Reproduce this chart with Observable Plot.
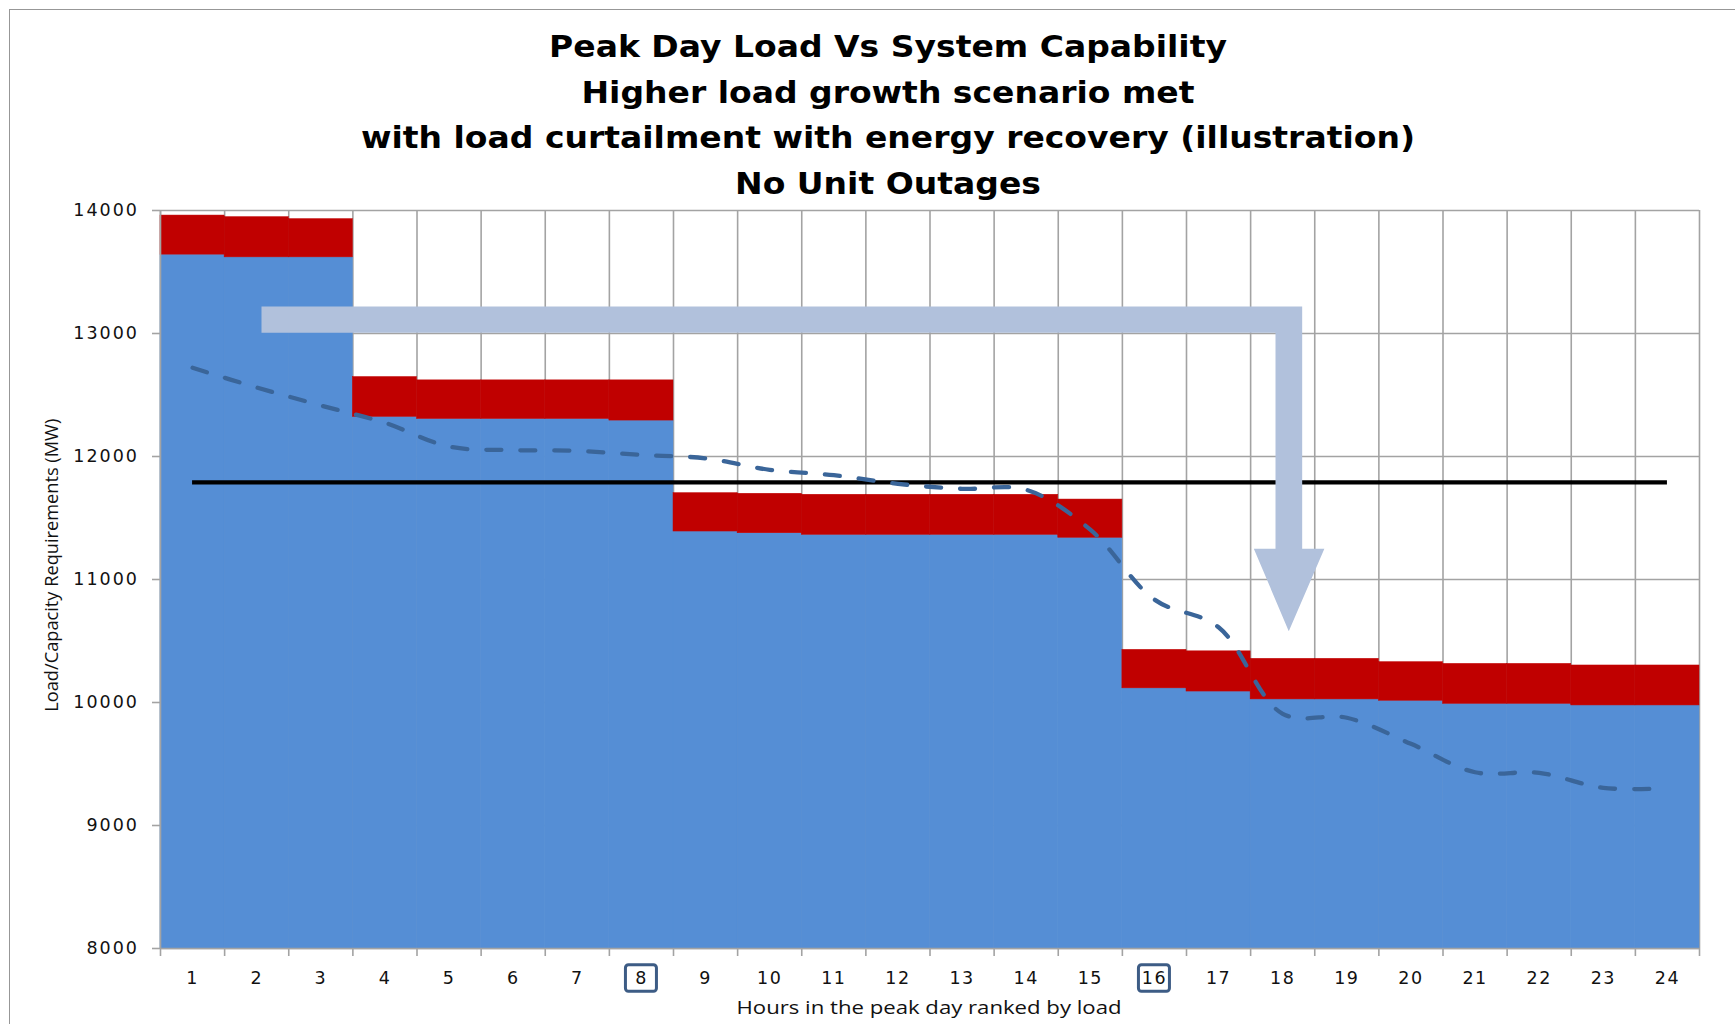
<!DOCTYPE html>
<html>
<head>
<meta charset="utf-8">
<script src="https://cdn.jsdelivr.net/npm/d3@7"></script>
<script src="https://cdn.jsdelivr.net/npm/@observablehq/plot@0.6"></script>
<style>
html, body { margin: 0; padding: 0; background: #fff; overflow: hidden; }
#wrap { position: relative; width: 1735px; height: 1024px; overflow: hidden; background: #fff; }
#border { position: absolute; left: 9px; top: 9px; width: 2000px; height: 2000px; border: 1.5px solid #979797; pointer-events: none; }
#title { position: absolute; left: 0; top: 0; width: 1735px; box-sizing: border-box; padding-left: 41px; padding-top: 24px;
  text-align: center; font-family: "DejaVu Sans", sans-serif; font-weight: bold; font-size: 30px; line-height: 45.5px; color: #000;
  transform: scaleX(1.1); transform-origin: 888px 0; }
#chart { position: absolute; left: 0; top: 200px; }
g[aria-label="y-axis tick label"] text { letter-spacing: 2px; }
g[aria-label="x-axis tick label"] text { letter-spacing: 1.5px; }
</style>
</head>
<body>
<div id="wrap">
  <div id="border"></div>
  <div id="title">Peak Day Load Vs System Capability<br>Higher load growth scenario met<br>with load curtailment with energy recovery (illustration)<br>No Unit Outages</div>
  <div id="chart"></div>
</div>
<script>
// ---- data ----
const hours = [1,2,3,4,5,6,7,8,9,10,11,12,13,14,15,16,17,18,19,20,21,22,23,24];
const servedLoad = [13641,13619,13619,12322,12305,12305,12305,12292,11390,11376,11363,11363,11363,11363,11339,10115,10089,10025,10025,10014,9989,9989,9976,9976];
const curtailedLoad = [318,327,311,324,314,314,314,327,312,321,326,326,326,326,311,313,327,330,330,314,325,325,325,325];
const recoveryLoad = [12721,12561,12415,12274,12081,12052,12046,12013,11985,11892,11848,11778,11737,11729,11405,10837,10612,9908,9876,9664,9433,9428,9306,9303];
const systemCapability = 11790;
const yTicks = [8000,9000,10000,11000,12000,13000,14000];
const highlightedHours = [8,16];
// illustrative arrow outline (hour units, MW)
const arrowX = [2.075,18.304,18.304,18.65,18.095,17.55,17.888,17.888,2.075];
const arrowY = [13220,13220,11250,11250,10580,11250,11250,13006,13006];

const yLabel = "Load/Capacity Requirements (MW)";
const xLabel = "Hours in the peak day ranked by load";

// ---- tables for the library ----
const table = hours.map((h, i) => ({hour: h, served: servedLoad[i], top: servedLoad[i] + curtailedLoad[i], recovery: recoveryLoad[i]}));
const boundaries = [hours[0] - 0.5, ...hours.map(h => h + 0.5)];
const arrow = arrowX.map((x, i) => ({x, y: arrowY[i]}));
const yMin = yTicks[0], yMax = yTicks[yTicks.length - 1];

const gridColor = "#a3a3a3";

function tickHighlights(index, scales, values, dimensions) {
  const bottom = dimensions.height - dimensions.marginBottom;
  const g = d3.create("svg:g").attr("aria-label", "highlight");
  g.selectAll("rect").data(highlightedHours).join("rect")
    .attr("x", h => scales.x(h) - 15.5)
    .attr("y", bottom + 16.8)
    .attr("width", 31)
    .attr("height", 26.4)
    .attr("rx", 3)
    .attr("fill", "none")
    .attr("stroke", "#3d5c85")
    .attr("stroke-width", 3);
  return g.node();
}

const chart = Plot.plot({
  width: 1735,
  height: 824,
  marginTop: 10,
  marginLeft: 160,
  marginRight: 36,
  marginBottom: 76,
  style: {fontFamily: "DejaVu Sans", fontSize: "17px", background: "transparent", color: "#111", overflow: "visible"},
  x: {type: "linear", domain: [boundaries[0], boundaries[boundaries.length - 1]]},
  y: {domain: [yMin, yMax]},
  marks: [
    Plot.gridX(boundaries, {stroke: gridColor, strokeOpacity: 1, strokeWidth: 1.6}),
    Plot.gridY(yTicks, {stroke: gridColor, strokeOpacity: 1, strokeWidth: 1.6}),
    Plot.rect(table, {x1: d => d.hour - 0.5, x2: d => d.hour + 0.5, y1: d => yMin, y2: "served", fill: "#558ed5", stroke: "#558ed5", strokeWidth: 0.5}),
    Plot.rect(table, {x1: d => d.hour - 0.5, x2: d => d.hour + 0.5, y1: "served", y2: "top", fill: "#c00000", stroke: "#c00000", strokeWidth: 0.5}),
    Plot.ruleX([boundaries[0]], {stroke: gridColor, strokeWidth: 1.6}),
    Plot.ruleY([yMin], {stroke: gridColor, strokeWidth: 1.6}),
    Plot.ruleY([systemCapability], {x1: hours[0], x2: hours[hours.length - 1], stroke: "#000", strokeWidth: 4.2}),
    Plot.line(table, {x: "hour", y: "recovery", stroke: "#3a6599", strokeWidth: 4.3, strokeDasharray: "15,19", strokeLinecap: "round", curve: "catmull-rom"}),
    Plot.line(arrow, {x: "x", y: "y", fill: "#b1c1dc", stroke: "none", curve: "linear-closed"}),
    Plot.axisY(yTicks, {tickSize: 8, tickPadding: 13.5, fontSize: 17.5, stroke: gridColor, strokeWidth: 1.6, fill: "#111", tickFormat: d => String(d)}),
    Plot.axisX(boundaries, {tickSize: 8, tickPadding: 0, stroke: gridColor, strokeWidth: 1.6, tickFormat: () => "", ariaLabel: "x-axis boundary"}),
    Plot.axisX(hours, {tickSize: 0, tickPadding: 22.6, fontSize: 17.5, fill: "#111", tickFormat: d => String(d)}),
    tickHighlights,
    Plot.text([yLabel], {frameAnchor: "left", dx: -108.3, dy: -14.3, rotate: -90, text: d => d, textAnchor: "middle", lineAnchor: "middle", fontFamily: "Open Sans", fontSize: 19, fill: "#111"}),
    Plot.text([xLabel], {frameAnchor: "bottom", dx: -1, dy: 60, text: d => d, textAnchor: "middle", lineAnchor: "middle", fontFamily: "Open Sans", fontSize: 17.5, fill: "#111"})
  ]
});

document.getElementById("chart").appendChild(chart);
d3.select(chart).selectAll("text").each(function() {
  const t = this.textContent;
  if (t === yLabel) d3.select(this).attr("textLength", 293).attr("lengthAdjust", "spacingAndGlyphs");
  if (t === xLabel) d3.select(this).attr("textLength", 385).attr("lengthAdjust", "spacingAndGlyphs");
});
</script>
</body>
</html>
